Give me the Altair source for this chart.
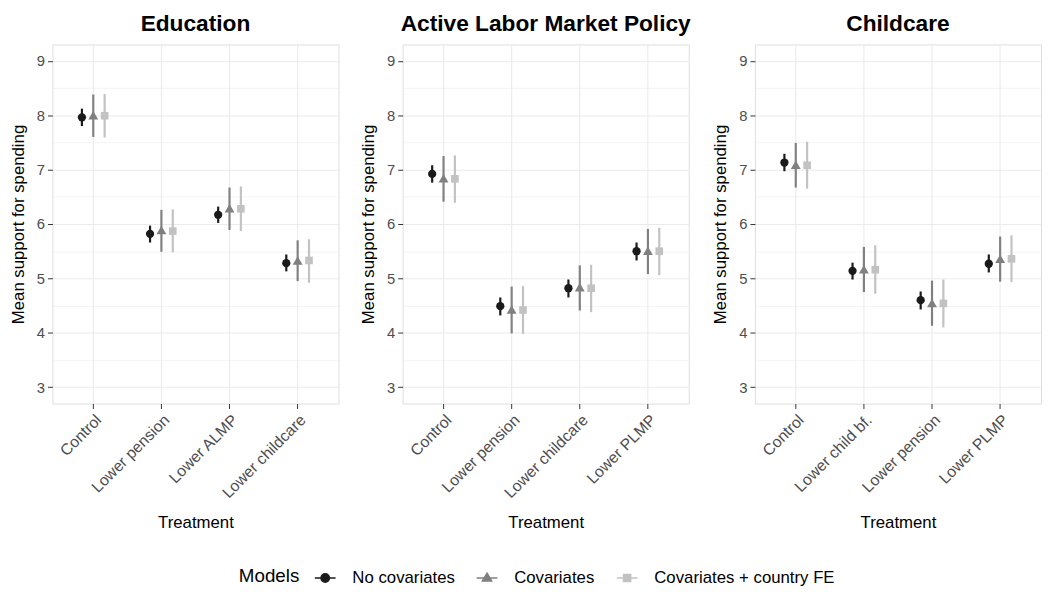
import altair as alt
import pandas as pd

# ---------------- data ----------------
MODELS = ["No covariates", "Covariates", "Covariates + country FE"]
MODEL_COLORS = ["#1a1a1a", "#808080", "#c2c2c2"]
MODEL_SHAPES = ["circle", "triangle-up", "square"]
MODEL_SIZES = [70, 100, 60]
Y_TICKS = [3, 3.5, 4, 4.5, 5, 5.5, 6, 6.5, 7, 7.5, 8, 8.5, 9]

# Education
edu_treatments = ["Control", "Lower pension", "Lower ALMP", "Lower childcare"]
edu_nocov_est = [7.96, 5.82, 6.17, 5.28]
edu_nocov_lo = [7.80, 5.66, 6.02, 5.13]
edu_nocov_hi = [8.12, 5.97, 6.32, 5.44]
edu_cov_est = [8.00, 5.89, 6.29, 5.33]
edu_cov_lo = [7.60, 5.49, 5.89, 4.95]
edu_cov_hi = [8.38, 6.26, 6.67, 5.70]
edu_fe_est = [7.99, 5.87, 6.28, 5.33]
edu_fe_lo = [7.59, 5.48, 5.87, 4.92]
edu_fe_hi = [8.39, 6.27, 6.69, 5.72]

# Active Labor Market Policy
almp_treatments = ["Control", "Lower pension", "Lower childcare", "Lower PLMP"]
almp_nocov_est = [6.92, 4.49, 4.82, 5.50]
almp_nocov_lo = [6.76, 4.32, 4.65, 5.33]
almp_nocov_hi = [7.08, 4.65, 4.98, 5.66]
almp_cov_est = [6.84, 4.43, 4.84, 5.51]
almp_cov_lo = [6.41, 3.99, 4.41, 5.08]
almp_cov_hi = [7.25, 4.85, 5.24, 5.91]
almp_fe_est = [6.83, 4.42, 4.82, 5.50]
almp_fe_lo = [6.39, 3.98, 4.38, 5.06]
almp_fe_hi = [7.26, 4.86, 5.25, 5.93]

# Childcare
cc_treatments = ["Control", "Lower child bf.", "Lower pension", "Lower PLMP"]
cc_nocov_est = [7.13, 5.14, 4.60, 5.27]
cc_nocov_lo = [6.97, 4.98, 4.43, 5.11]
cc_nocov_hi = [7.29, 5.29, 4.76, 5.44]
cc_cov_est = [7.09, 5.17, 4.55, 5.36]
cc_cov_lo = [6.67, 4.75, 4.13, 4.94]
cc_cov_hi = [7.49, 5.58, 4.96, 5.77]
cc_fe_est = [7.08, 5.16, 4.54, 5.36]
cc_fe_lo = [6.65, 4.72, 4.10, 4.93]
cc_fe_hi = [7.51, 5.61, 4.98, 5.79]


def frame(treatments, series):
    rows = []
    for model, (est, lo, hi) in zip(MODELS, series):
        for t, e, l, h in zip(treatments, est, lo, hi):
            rows.append({"treatment": t, "model": model, "est": e, "lo": l, "hi": h})
    return pd.DataFrame(rows)


edu_df = frame(edu_treatments, [(edu_nocov_est, edu_nocov_lo, edu_nocov_hi),
                                (edu_cov_est, edu_cov_lo, edu_cov_hi),
                                (edu_fe_est, edu_fe_lo, edu_fe_hi)])
almp_df = frame(almp_treatments, [(almp_nocov_est, almp_nocov_lo, almp_nocov_hi),
                                  (almp_cov_est, almp_cov_lo, almp_cov_hi),
                                  (almp_fe_est, almp_fe_lo, almp_fe_hi)])
cc_df = frame(cc_treatments, [(cc_nocov_est, cc_nocov_lo, cc_nocov_hi),
                              (cc_cov_est, cc_cov_lo, cc_cov_hi),
                              (cc_fe_est, cc_fe_lo, cc_fe_hi)])

# ---------------- styling ----------------
FONT = "Liberation Sans"
GRID = "#ebebeb"
PANEL_W = 290
PANEL_H = 364
STEP = PANEL_W / 4.2  # band step of the discrete x scale (4 bands + 2 * 0.1 outer padding)

# legend keys: a short line through the marker (as in ggplot pointrange keys)
LEGEND_PATHS = [
    "M-1,0H1M0.4,0A0.4,0.4,0,1,1,-0.4,0A0.4,0.4,0,1,1,0.4,0Z",
    "M-1,0H1M0,-0.46L0.44,0.3L-0.44,0.3Z",
    "M-1,0H1M-0.34,-0.34H0.34V0.34H-0.34Z",
]

legend = alt.Legend(
    title="Models",
    orient="none",
    legendX=189,
    legendY=529,
    direction="horizontal",
    titleOrient="left",
    titleFontSize=19,
    titleFontWeight="normal",
    titleColor="black",
    titleFont=FONT,
    titlePadding=14,
    labelFontSize=17,
    labelColor="black",
    labelFont=FONT,
    labelLimit=400,
    labelOffset=16,
    columnPadding=18,
    symbolSize=441,
    symbolStrokeWidth=1.6,
    symbolOpacity=1,
)

color_scale = alt.Scale(domain=MODELS, range=MODEL_COLORS)
color_nolegend = alt.Color("model:N", sort=MODELS, scale=color_scale, legend=None)

major = "datum.value % 1 === 0"

yaxis = alt.Axis(
    title="Mean support for spending",
    values=Y_TICKS,
    format=".0f",
    labelExpr="datum.value % 1 === 0 ? datum.label : ''",
    tickSize={"condition": {"test": major, "value": 5}, "value": 0},
    gridWidth={"condition": {"test": major, "value": 1.1}, "value": 0.55},
    grid=True, gridColor=GRID, domain=False,
    labelFontSize=15, labelColor="#4d4d4d", labelPadding=3, labelFont=FONT,
    tickColor="#333333", tickWidth=1,
    titleFontSize=17, titleFontWeight="normal", titleColor="black",
    titlePadding=9, titleFont=FONT,
)

xaxis = alt.Axis(
    title="Treatment",
    labelAngle=-45, labelAlign="right", labelBaseline="top",
    bandPosition=0.5,
    grid=True, gridColor=GRID, gridWidth=1.1, domain=False,
    tickSize=5, tickColor="#333333", tickWidth=1,
    labelFontSize=16, labelColor="#4d4d4d", labelPadding=3, labelFont=FONT,
    titleFontSize=17, titleFontWeight="normal", titleColor="black",
    titleY=113, titleFont=FONT,
)


def panel(df, treatments, title):
    x = alt.X("treatment:N", sort=treatments,
              scale=alt.Scale(domain=treatments, paddingInner=0, paddingOuter=0.1),
              axis=xaxis)
    # dodge: -1/6, 0, +1/6 of a band around the band centre
    xo = alt.XOffset("model:N", sort=MODELS,
                     scale=alt.Scale(type="point", domain=MODELS, padding=0,
                                     range=[STEP / 3, STEP * 2 / 3]))
    yscale = alt.Scale(domain=[2.7, 9.3], nice=False, zero=False)
    y_est = alt.Y("est:Q", scale=yscale, axis=yaxis)
    base = alt.Chart(df)
    # invisible layer (first, so its legend settings win) that only carries the legend keys
    keys = base.mark_point(filled=True, opacity=0, size=70).encode(
        x=x, xOffset=xo, y=y_est,
        color=alt.Color("model:N", sort=MODELS, scale=color_scale, legend=legend),
        stroke=alt.Stroke("model:N", sort=MODELS, scale=color_scale, legend=legend),
        shape=alt.Shape("model:N", sort=MODELS,
                        scale=alt.Scale(domain=MODELS, range=LEGEND_PATHS), legend=legend),
    )
    rules = base.mark_rule(strokeWidth=2.2, opacity=1).encode(
        x=x, xOffset=xo,
        y=alt.Y("lo:Q", scale=yscale, axis=yaxis),
        y2="hi:Q",
        color=color_nolegend,
    )
    layers = [keys, rules]
    for model, shp, sz in zip(MODELS, MODEL_SHAPES, MODEL_SIZES):
        layers.append(
            base.transform_filter(alt.datum.model == model)
            .mark_point(filled=True, opacity=1, size=sz, shape=shp)
            .encode(x=x, xOffset=xo, y=y_est, color=color_nolegend)
        )
    return alt.layer(*layers).properties(
        width=PANEL_W, height=PANEL_H,
        title=alt.TitleParams(title, fontSize=23, fontWeight="bold", font=FONT,
                              color="black", anchor="middle", frame="group",
                              offset=9),
    )


chart = alt.hconcat(
    panel(edu_df, edu_treatments, "Education"),
    panel(almp_df, almp_treatments, "Active Labor Market Policy"),
    panel(cc_df, cc_treatments, "Childcare"),
    spacing=20,
).resolve_scale(
    x="independent", y="independent", xOffset="independent"
).properties(
    padding={"left": 1, "top": 0, "right": 0, "bottom": 0},
    background="white",
).configure_view(
    stroke="#333333", strokeWidth=1,
).configure(font=FONT)

chart.save("out.html", embed_options={"renderer": "svg", "actions": False})
